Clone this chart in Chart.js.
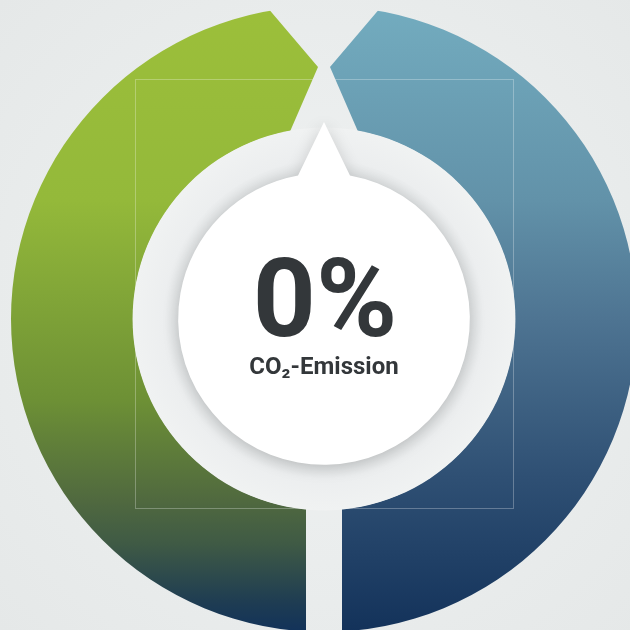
<!DOCTYPE html>
<html>
<head>
<meta charset="utf-8">
<script src="https://cdn.jsdelivr.net/npm/chart.js@4.4.0/dist/chart.umd.min.js"></script>
<style>
  html, body {
    margin: 0;
    padding: 0;
    width: 630px;
    height: 630px;
    overflow: hidden;
    background: radial-gradient(circle at 51% 50%, #f0f2f2 0%, #eaeded 55%, #e5e8e8 100%);
  }
  #wrap { position: absolute; left: 11px; top: 6px; width: 626px; height: 626px; }
</style>
</head>
<body>
<div id="wrap"><canvas id="ringChart" width="626" height="626"></canvas></div>
<script>
// Data
const segmentLabels = ['Rechts', 'Links'];
const segmentValues = [50, 50];
const centerValue = '0%';
const centerLabel = 'CO₂-Emission';

// Vertical gradients (stop, colour) for each segment
const blueStops = [[0, '#73acbf'], [0.31, '#6292a9'], [0.5, '#4e7492'], [0.75, '#2f5074'], [1, '#13325a']];
const greenStops = [[0, '#9cbf3a'], [0.31, '#94b93a'], [0.63, '#6d9035'], [0.79, '#50693f'], [0.86, '#3f5a45'], [0.95, '#1f3d52'], [1, '#12325a']];

function makeGradient(chart, stops) {
  const area = chart.chartArea;
  if (!area) return stops[0][1];
  const g = chart.ctx.createLinearGradient(0, area.top, 0, area.bottom);
  stops.forEach(s => g.addColorStop(s[0], s[1]));
  return g;
}

// Cuts the notched gaps, draws the halo, the white badge and the centre text
const centerPlugin = {
  id: 'centerBadge',
  afterDatasetsDraw(chart) {
    const arc = chart.getDatasetMeta(0).data[0];
    if (!arc) return;
    const ctx = chart.ctx;
    const cx = arc.x, cy = arc.y;
    const R = arc.outerRadius, r = arc.innerRadius;

    // faint frame lines
    ctx.save();
    ctx.strokeStyle = 'rgba(255,255,255,0.28)';
    ctx.lineWidth = 1;
    ctx.strokeRect(Math.round(cx - 0.604 * R) + 0.5, Math.round(cy - 0.767 * R) + 0.5, Math.round(1.208 * R), Math.round(1.37 * R));
    ctx.restore();

    // gaps
    ctx.save();
    ctx.globalCompositeOperation = 'destination-out';
    const mid = (R + r) / 2;
    const tipDx = 6;
    const aOut = 0.173, aIn = 0.178;
    const ext = (p, t, k) => [t[0] + (p[0] - t[0]) * k, t[1] + (p[1] - t[1]) * k];
    const tipL = [cx - tipDx, cy - mid], tipR = [cx + tipDx, cy - mid];
    const outL = ext([cx - R * Math.sin(aOut), cy - R * Math.cos(aOut)], tipL, 1.6);
    const outR = ext([cx + R * Math.sin(aOut), cy - R * Math.cos(aOut)], tipR, 1.6);
    const inL = ext([cx - r * Math.sin(aIn), cy - r * Math.cos(aIn)], tipL, 1.4);
    const inR = ext([cx + r * Math.sin(aIn), cy - r * Math.cos(aIn)], tipR, 1.4);
    ctx.beginPath();
    ctx.moveTo(tipL[0], tipL[1]);
    ctx.lineTo(outL[0], outL[1]);
    ctx.lineTo(outR[0], outR[1]);
    ctx.lineTo(tipR[0], tipR[1]);
    ctx.lineTo(inR[0], inR[1]);
    ctx.lineTo(inL[0], inL[1]);
    ctx.closePath();
    ctx.fill();
    const halfGap = 0.0575 * R;
    ctx.fillRect(cx - halfGap, cy, halfGap * 2, R + 20);
    ctx.restore();

    // halo disk
    const whiteR = 0.466 * R;
    ctx.save();
    const halo = ctx.createRadialGradient(cx, cy, whiteR, cx, cy, r);
    halo.addColorStop(0, '#dfe2e3');
    halo.addColorStop(0.3, '#eceeef');
    halo.addColorStop(1, '#f0f2f2');
    ctx.fillStyle = halo;
    ctx.beginPath();
    ctx.arc(cx, cy, r + 0.5, 0, Math.PI * 2);
    ctx.fill();
    ctx.restore();

    // white badge with pointer
    const apexY = cy - 0.629 * R;
    const halfBase = 0.083 * R;
    const baseY = cy - Math.sqrt(whiteR * whiteR - halfBase * halfBase);
    const aRight = Math.atan2(baseY - cy, halfBase);
    const aLeft = Math.atan2(baseY - cy, -halfBase);
    ctx.save();
    ctx.shadowColor = 'rgba(0,0,0,0.17)';
    ctx.shadowBlur = 16;
    ctx.shadowOffsetY = 3;
    ctx.fillStyle = '#ffffff';
    ctx.beginPath();
    ctx.moveTo(cx, apexY);
    ctx.lineTo(cx + halfBase, baseY);
    ctx.arc(cx, cy, whiteR, aRight, aLeft, false);
    ctx.closePath();
    ctx.fill();
    ctx.restore();

    // centre text
    ctx.save();
    ctx.fillStyle = '#33373a';
    ctx.textAlign = 'center';
    ctx.textBaseline = 'alphabetic';
    ctx.font = 'bold 110px Roboto, "DejaVu Sans", sans-serif';
    ctx.fillText(centerValue, cx + 1, cy + 17);
    ctx.font = 'bold 24px Roboto, "DejaVu Sans", sans-serif';
    ctx.fillText(centerLabel, cx, cy + 55);
    ctx.restore();
  }
};

function initRing() {
  const ctx = document.getElementById('ringChart');
  new Chart(ctx, {
    type: 'doughnut',
    data: {
      labels: segmentLabels,
      datasets: [{
        data: segmentValues,
        backgroundColor: (c) => makeGradient(c.chart, c.dataIndex === 0 ? blueStops : greenStops),
        borderWidth: 0,
        hoverOffset: 0
      }]
    },
    options: {
      responsive: false,
      devicePixelRatio: 1,
      animation: false,
      events: [],
      cutout: '61%',
      layout: { padding: 0 },
      plugins: {
        legend: { display: false },
        tooltip: { enabled: false }
      }
    },
    plugins: [centerPlugin]
  });
}

initRing();
</script>
</body>
</html>
